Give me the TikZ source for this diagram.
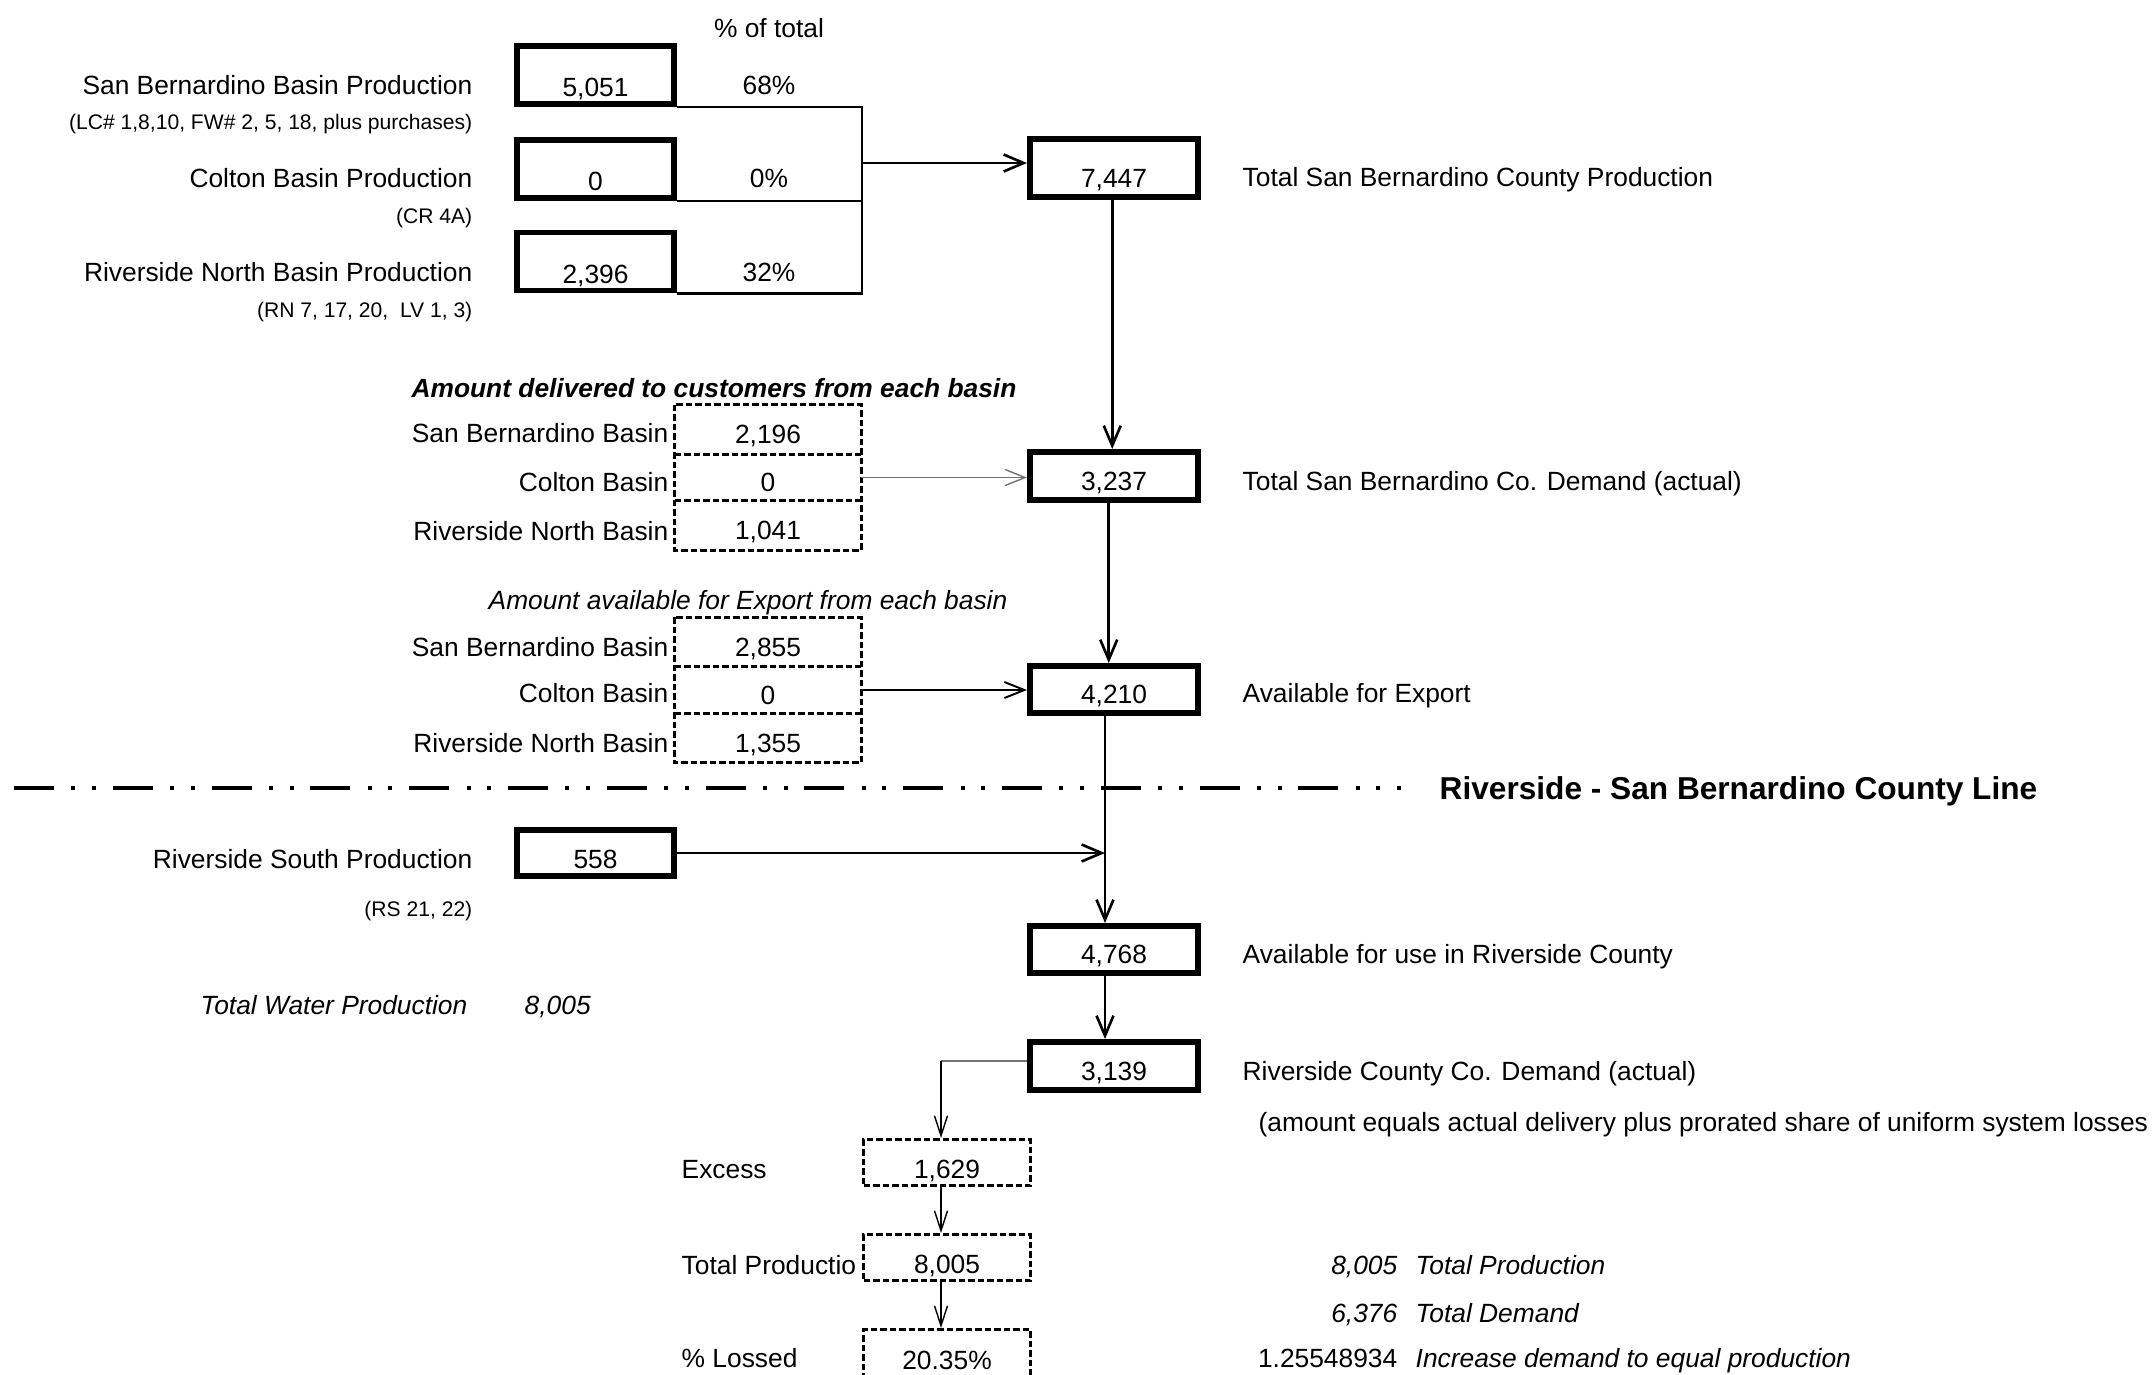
\documentclass[tikz,border=0pt]{standalone}
\usepackage{fontspec}
\setmainfont{Liberation Sans}
\usetikzlibrary{arrows.meta}

\begin{document}
\begin{tikzpicture}[x=0.1mm, y=-0.1mm, font=\fontsize{7.5pt}{9pt}\selectfont,
  lbl/.style={inner sep=0pt, text height=5.4pt, text depth=0pt},
  small/.style={lbl, font=\fontsize{6pt}{7pt}\selectfont, text height=4.3pt},
  prodbox/.style={draw, line width=1.7pt, minimum width=15.7mm, minimum height=5.8mm,
    inner sep=0pt, text height=12.4pt, text depth=0pt},
  sumbox/.style={draw, line width=1.7pt, minimum width=16.8mm, minimum height=4.75mm,
    inner sep=0pt, text height=8.2pt, text depth=0pt},
  dashes/.style={line width=0.85pt, dash pattern=on 0.65mm off 0.3mm},
  cell/.style={minimum width=18.5mm, minimum height=4.8mm, inner sep=0pt, text height=8.2pt, text depth=0pt},
  lossbox/.style={draw, dashes, minimum width=16.7mm, minimum height=4.6mm, inner sep=0pt,
    text height=9pt, text depth=0pt},
  feed/.style={line width=0.6pt},
  flow/.style={line width=0.75pt, -{Straight Barb[length=2mm, width=1.7mm]}},
  midflow/.style={line width=0.55pt, -{Straight Barb[length=2mm, width=1.6mm]}},
  grayflow/.style={line width=0.4pt, black!55, -{Straight Barb[length=2mm, width=1.6mm]}},
  thinflow/.style={line width=0.4pt, -{Straight Barb[length=2mm, width=1.3mm]}},
  countyline/.style={line width=1.15pt,
    dash pattern=on 4mm off 1.74mm on 0.4mm off 1.66mm on 0.4mm off 1.68mm}]
  \useasboundingbox (0,0) rectangle (2156,1375);

  \coordinate (junc) at (862,163);
  \coordinate (trunk) at (1105,852);
  \coordinate (split) at (941,1061);

  % production by basin
  \node[lbl] (pct) at (769,28) {\% of total};
  \node[prodbox] (sbp) at (595.5,75) {5,051};
  \node[prodbox] (cbp) at (595.5,169) {0};
  \node[prodbox] (rnp) at (595.5,261.5) {2,396};
  \node[lbl, anchor=east] (sbpl) at (473,85) {San Bernardino Basin Production};
  \node[small, anchor=east] (sbps) at (473,122) {(LC\# 1,8,10, FW\# 2, 5, 18, plus purchases)};
  \node[lbl, anchor=east] (cbpl) at (473,178) {Colton Basin Production};
  \node[small, anchor=east] (cbps) at (473,216) {(CR 4A)};
  \node[lbl, anchor=east] (rnpl) at (473,272) {Riverside North Basin Production};
  \node[small, anchor=east] (rnps) at (473,310) {(RN 7, 17, 20,\ \ LV 1, 3)};
  \node[lbl] (sbpc) at (769,85) {68\%};
  \node[lbl] (cbpc) at (769,178) {0\%};
  \node[lbl] (rnpc) at (769,272) {32\%};

  \node[sumbox, minimum height=5.8mm, text height=11pt] (tot) at (1114,168) {7,447};
  \node[lbl, anchor=west] (totl) at (1242,177) {Total San Bernardino County Production};

  \draw[feed] (sbp.south east) -- (sbp.south east -| junc) -- (rnp.south east -| junc) -- (rnp.south east);
  \draw[feed] (cbp.south east) -- (cbp.south east -| junc);
  \draw[flow] (junc) -- (junc -| tot.west);

  % delivered to customers
  \node[lbl, font=\fontsize{7.5pt}{9pt}\selectfont\bfseries\itshape] (delt) at (714,388)
    {Amount delivered to customers from each basin};
  \node[cell] (c1a) at (768,429.5) {2,196};
  \node[cell] (c1b) at (768,477.5) {0};
  \node[cell] (c1c) at (768,525.5) {1,041};
  \draw[dashes] (c1a.north west) rectangle (c1c.south east);
  \draw[dashes] (c1a.south west) -- (c1a.south east);
  \draw[dashes] (c1c.north west) -- (c1c.north east);
  \node[lbl, anchor=east] (c1al) at (669,433) {San Bernardino Basin};
  \node[lbl, anchor=east] (c1bl) at (669,482) {Colton Basin};
  \node[lbl, anchor=east] (c1cl) at (669,531) {Riverside North Basin};
  \node[sumbox, minimum height=4.8mm] (dem) at (1114,476) {3,237};
  \node[lbl, anchor=west] (deml) at (1242,481) {Total San Bernardino Co. Demand (actual)};
  \draw[grayflow] (c1b.east) -- (c1b.east -| dem.west);
  \draw[flow] ([xshift=-0.5pt]tot.south) -- ([xshift=-0.5pt]dem.north);

  % available for export
  \node[lbl, font=\fontsize{7.5pt}{9pt}\selectfont\itshape] (expt) at (748,600)
    {Amount available for Export from each basin};
  \node[cell] (c2a) at (768,642) {2,855};
  \node[cell] (c2b) at (768,690) {0};
  \node[cell] (c2c) at (768,738) {1,355};
  \draw[dashes] (c2a.north west) rectangle (c2c.south east);
  \draw[dashes] (c2a.south west) -- (c2a.south east);
  \draw[dashes] (c2c.north west) -- (c2c.north east);
  \node[lbl, anchor=east] (c2al) at (669,647) {San Bernardino Basin};
  \node[lbl, anchor=east] (c2bl) at (669,693) {Colton Basin};
  \node[lbl, anchor=east] (c2cl) at (669,743) {Riverside North Basin};
  \node[sumbox, minimum height=4.7mm] (exp) at (1114,689.5) {4,210};
  \node[lbl, anchor=west] (expl) at (1242,693) {Available for Export};
  \draw[midflow] (c2b.east) -- (c2b.east -| exp.west);
  \draw[flow] ([xshift=-1.5pt]dem.south) -- ([xshift=-1.5pt]exp.north);

  % county line
  \draw[countyline] (14,788) -- (1401,788);
  \node[lbl, anchor=west, font=\fontsize{9pt}{11pt}\selectfont\bfseries, text height=6.45pt] (cline)
    at (1439,788) {Riverside - San Bernardino County Line};

  % riverside county
  \node[prodbox, minimum height=4.6mm, text height=8.8pt] (rs) at (595.5,853) {558};
  \node[lbl, anchor=east] (rsl) at (473,859) {Riverside South Production};
  \node[small, anchor=east] (rss) at (473,909) {(RS 21, 22)};
  \node[sumbox, minimum height=4.7mm] (avl) at (1114,949.5) {4,768};
  \node[lbl, anchor=west] (avll) at (1242,954) {Available for use in Riverside County};
  \draw[flow] (rs.east) -- (rs.east -| trunk);
  \draw[flow] (exp.south -| trunk) -- (avl.north -| trunk);

  \node[lbl, anchor=east, font=\fontsize{7.5pt}{9pt}\selectfont\itshape] (twp) at (468,1005) {Total Water Production};
  \node[lbl, anchor=west, font=\fontsize{7.5pt}{9pt}\selectfont\itshape] (twpv) at (524,1005) {8,005};

  \node[sumbox, minimum height=4.8mm] (rcd) at (1114,1066) {3,139};
  \node[lbl, anchor=west] (rcdl) at (1242,1071) {Riverside County Co. Demand (actual)};
  \node[lbl, anchor=west] (rcdn) at (1258,1122)
    {(amount equals actual delivery plus prorated share of uniform system losses};
  \draw[flow] (avl.south -| trunk) -- (rcd.north -| trunk);

  % losses
  \node[lossbox] (exc) at (947,1162.5) {1,629};
  \node[lossbox] (tp) at (947,1257.5) {8,005};
  \node[lossbox, minimum height=5mm, text height=8.5pt] (loss) at (947,1354.5) {20.35\%};
  \node[lbl, anchor=west] (excl) at (681,1169) {Excess};
  \node[lbl, anchor=west] (tpl) at (681,1265) {Total Productio};
  \node[lbl, anchor=west] (lossl) at (681,1358) {\% Lossed};
  \draw[line width=0.8pt, black!55] (rcd.west |- split) -- (split);
  \draw[thinflow] (split) -- (split |- exc.north);
  \draw[thinflow] (split |- exc.south) -- (split |- tp.north);
  \draw[thinflow] (split |- tp.south) -- (split |- loss.north);

  \node[lbl, anchor=east, font=\fontsize{7.5pt}{9pt}\selectfont\itshape] (tpv) at (1398,1265) {8,005};
  \node[lbl, anchor=west, font=\fontsize{7.5pt}{9pt}\selectfont\itshape] (tpt) at (1415,1265) {Total Production};
  \node[lbl, anchor=east, font=\fontsize{7.5pt}{9pt}\selectfont\itshape] (tdv) at (1398,1313) {6,376};
  \node[lbl, anchor=west, font=\fontsize{7.5pt}{9pt}\selectfont\itshape] (tdt) at (1415,1313) {Total Demand};
  \node[lbl, anchor=east] (incv) at (1398,1358) {1.25548934};
  \node[lbl, anchor=west, font=\fontsize{7.5pt}{9pt}\selectfont\itshape] (inct) at (1415,1358)
    {Increase demand to equal production};
\end{tikzpicture}
\end{document}
